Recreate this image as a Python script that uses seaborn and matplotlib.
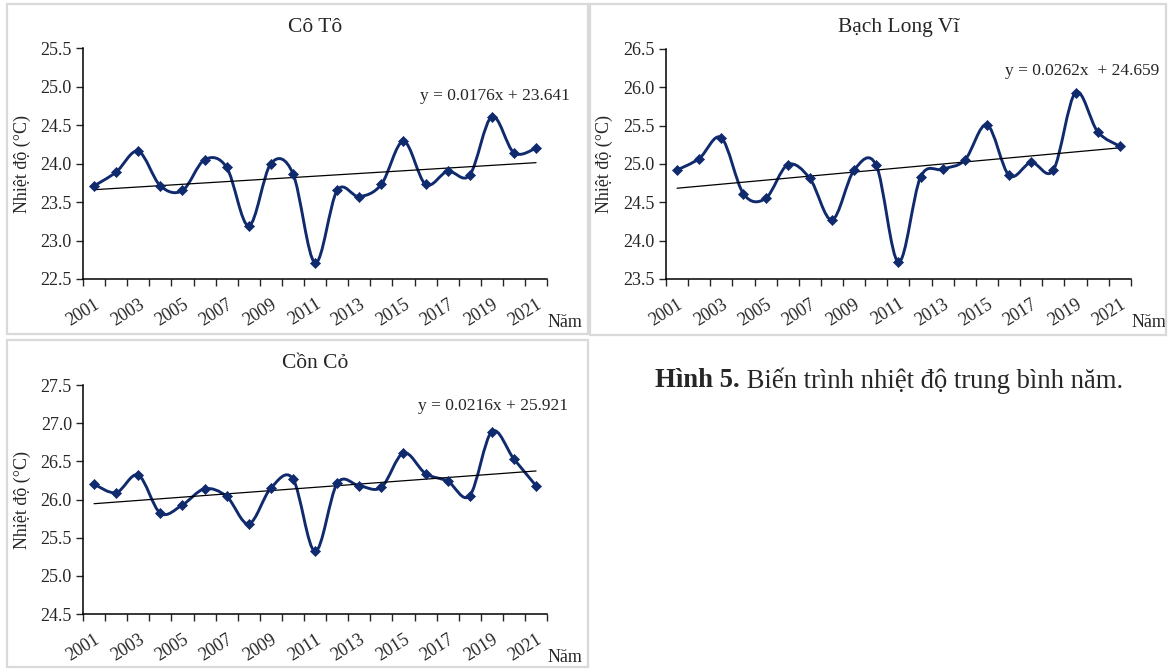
import matplotlib
matplotlib.use("Agg")
import matplotlib.pyplot as plt
from matplotlib.path import Path
from matplotlib.patches import PathPatch, Rectangle
import numpy as np
import seaborn as sns

years = list(range(2001, 2022))

co_to = [23.71, 23.89, 24.16, 23.71, 23.65, 24.05, 23.95, 23.19, 24.00, 23.87, 22.71,
         23.65, 23.57, 23.73, 24.29, 23.73, 23.90, 23.85, 24.61, 24.14, 24.20]
bach_long_vi = [24.92, 25.07, 25.34, 24.61, 24.55, 24.99, 24.81, 24.27, 24.92, 24.98, 23.72,
                24.83, 24.93, 25.05, 25.51, 24.85, 25.02, 24.92, 25.93, 25.42, 25.23]
con_co = [26.20, 26.09, 26.32, 25.82, 25.93, 26.14, 26.04, 25.68, 26.15, 26.27, 25.32,
          26.21, 26.18, 26.16, 26.61, 26.34, 26.24, 26.05, 26.89, 26.53, 26.18]

titles = ["Cô Tô", "Bạch Long Vĩ", "Cồn Cỏ"]
equations = ["y = 0.0176x + 23.641", "y = 0.0262x  + 24.659", "y = 0.0216x + 25.921"]
y_ranges = [(22.5, 25.5), (23.5, 26.5), (24.5, 27.5)]
ylabel = "Nhiệt độ (°C)"
xlabel = "Năm"
caption_bold = "Hình 5."
caption_rest = " Biến trình nhiệt độ trung bình năm."

sns.set_style("ticks")
plt.rcParams['font.family'] = ['Liberation Serif', 'DejaVu Serif']

NAVY = "#102a6e"


def smooth_path(x, y):
    # Excel-like smoothed line: Catmull-Rom segments as cubic Bezier curves
    pts = np.column_stack([x, y]).astype(float)
    n = len(pts)
    verts = [pts[0]]
    codes = [Path.MOVETO]
    for i in range(n - 1):
        p0 = pts[i - 1] if i > 0 else pts[i]
        p1 = pts[i]
        p2 = pts[i + 1]
        p3 = pts[i + 2] if i + 2 < n else pts[i + 1]
        c1 = p1 + (p2 - p0) / 6.0
        c2 = p2 - (p3 - p1) / 6.0
        verts += [c1, c2, p2]
        codes += [Path.CURVE4] * 3
    return Path(verts, codes)


fig = plt.figure(figsize=(11.68, 6.69), dpi=100)

# panel frames
for x0, y0, w, h in [(0.006, 0.5007, 0.4974, 0.4933),
                     (0.5051, 0.4993, 0.4932, 0.4948),
                     (0.006, 0.003, 0.4974, 0.4888)]:
    fig.add_artist(Rectangle((x0, y0), w, h, transform=fig.transFigure,
                             fill=False, edgecolor="#d9d9d9", lw=1.6))

axes_pos = [[0.0711, 0.583, 0.3973, 0.345],
            [0.5702, 0.583, 0.3980, 0.344],
            [0.0711, 0.0822, 0.3973, 0.3423]]
eq_pos = [(0.726, 0.792), (0.729, 0.904), (0.722, 0.908)]

x = np.arange(1, len(years) + 1)

for k, vals in enumerate([co_to, bach_long_vi, con_co]):
    ax = fig.add_axes(axes_pos[k])
    ax.add_patch(PathPatch(smooth_path(x, vals), facecolor="none",
                           edgecolor=NAVY, lw=2.1, zorder=2))
    sns.regplot(x=x, y=vals, scatter=False, ci=None, ax=ax,
                line_kws=dict(color="black", lw=0.9, zorder=3))
    sns.scatterplot(x=x, y=vals, marker="D", s=26, color=NAVY,
                    edgecolor=NAVY, linewidth=0.5, ax=ax, zorder=4)

    lo, hi = y_ranges[k]
    ax.set_ylim(lo, hi)
    ax.set_yticks(np.arange(lo, hi + 0.01, 0.5))
    ax.set_yticklabels([f"{v:.1f}" for v in np.arange(lo, hi + 0.01, 0.5)])
    ax.set_xlim(0.5, len(years) + 0.5)
    ax.set_xticks(np.arange(0.5, len(years) + 1, 1), minor=True)
    ax.set_xticks(x[::2])
    ax.set_xticklabels([str(y) for y in years[::2]], rotation=32,
                       ha="right", rotation_mode="anchor")
    ax.tick_params(axis="x", which="major", length=0, pad=12, labelsize=13)
    ax.tick_params(axis="x", which="minor", length=5, width=1, direction="out")
    ax.tick_params(axis="y", length=5, width=1, labelsize=13, pad=3)
    for s in ["left", "bottom"]:
        ax.spines[s].set_linewidth(1.1)
        ax.spines[s].set_color("black")
    sns.despine(ax=ax)

    ax.set_xlabel("")
    ax.set_ylabel(ylabel, fontsize=13)
    ax.yaxis.set_label_coords(-0.113, 0.5)
    ax.set_title(titles[k], fontsize=15.5, pad=12)
    ax.text(*eq_pos[k], equations[k], transform=ax.transAxes, fontsize=12.5,
            ha="left", va="center", clip_on=False)
    ax.text(1.077, -0.19, xlabel, transform=ax.transAxes, fontsize=13,
            ha="right", va="center", clip_on=False)

t1 = fig.text(0.5608, 0.4305, caption_bold, fontsize=19.2, fontweight="bold",
              ha="left", va="center")
ax.annotate(caption_rest, xy=(1, 0.5), xycoords=t1, fontsize=19.2,
            ha="left", va="center", annotation_clip=False)

fig.savefig("out.png", dpi=100)
